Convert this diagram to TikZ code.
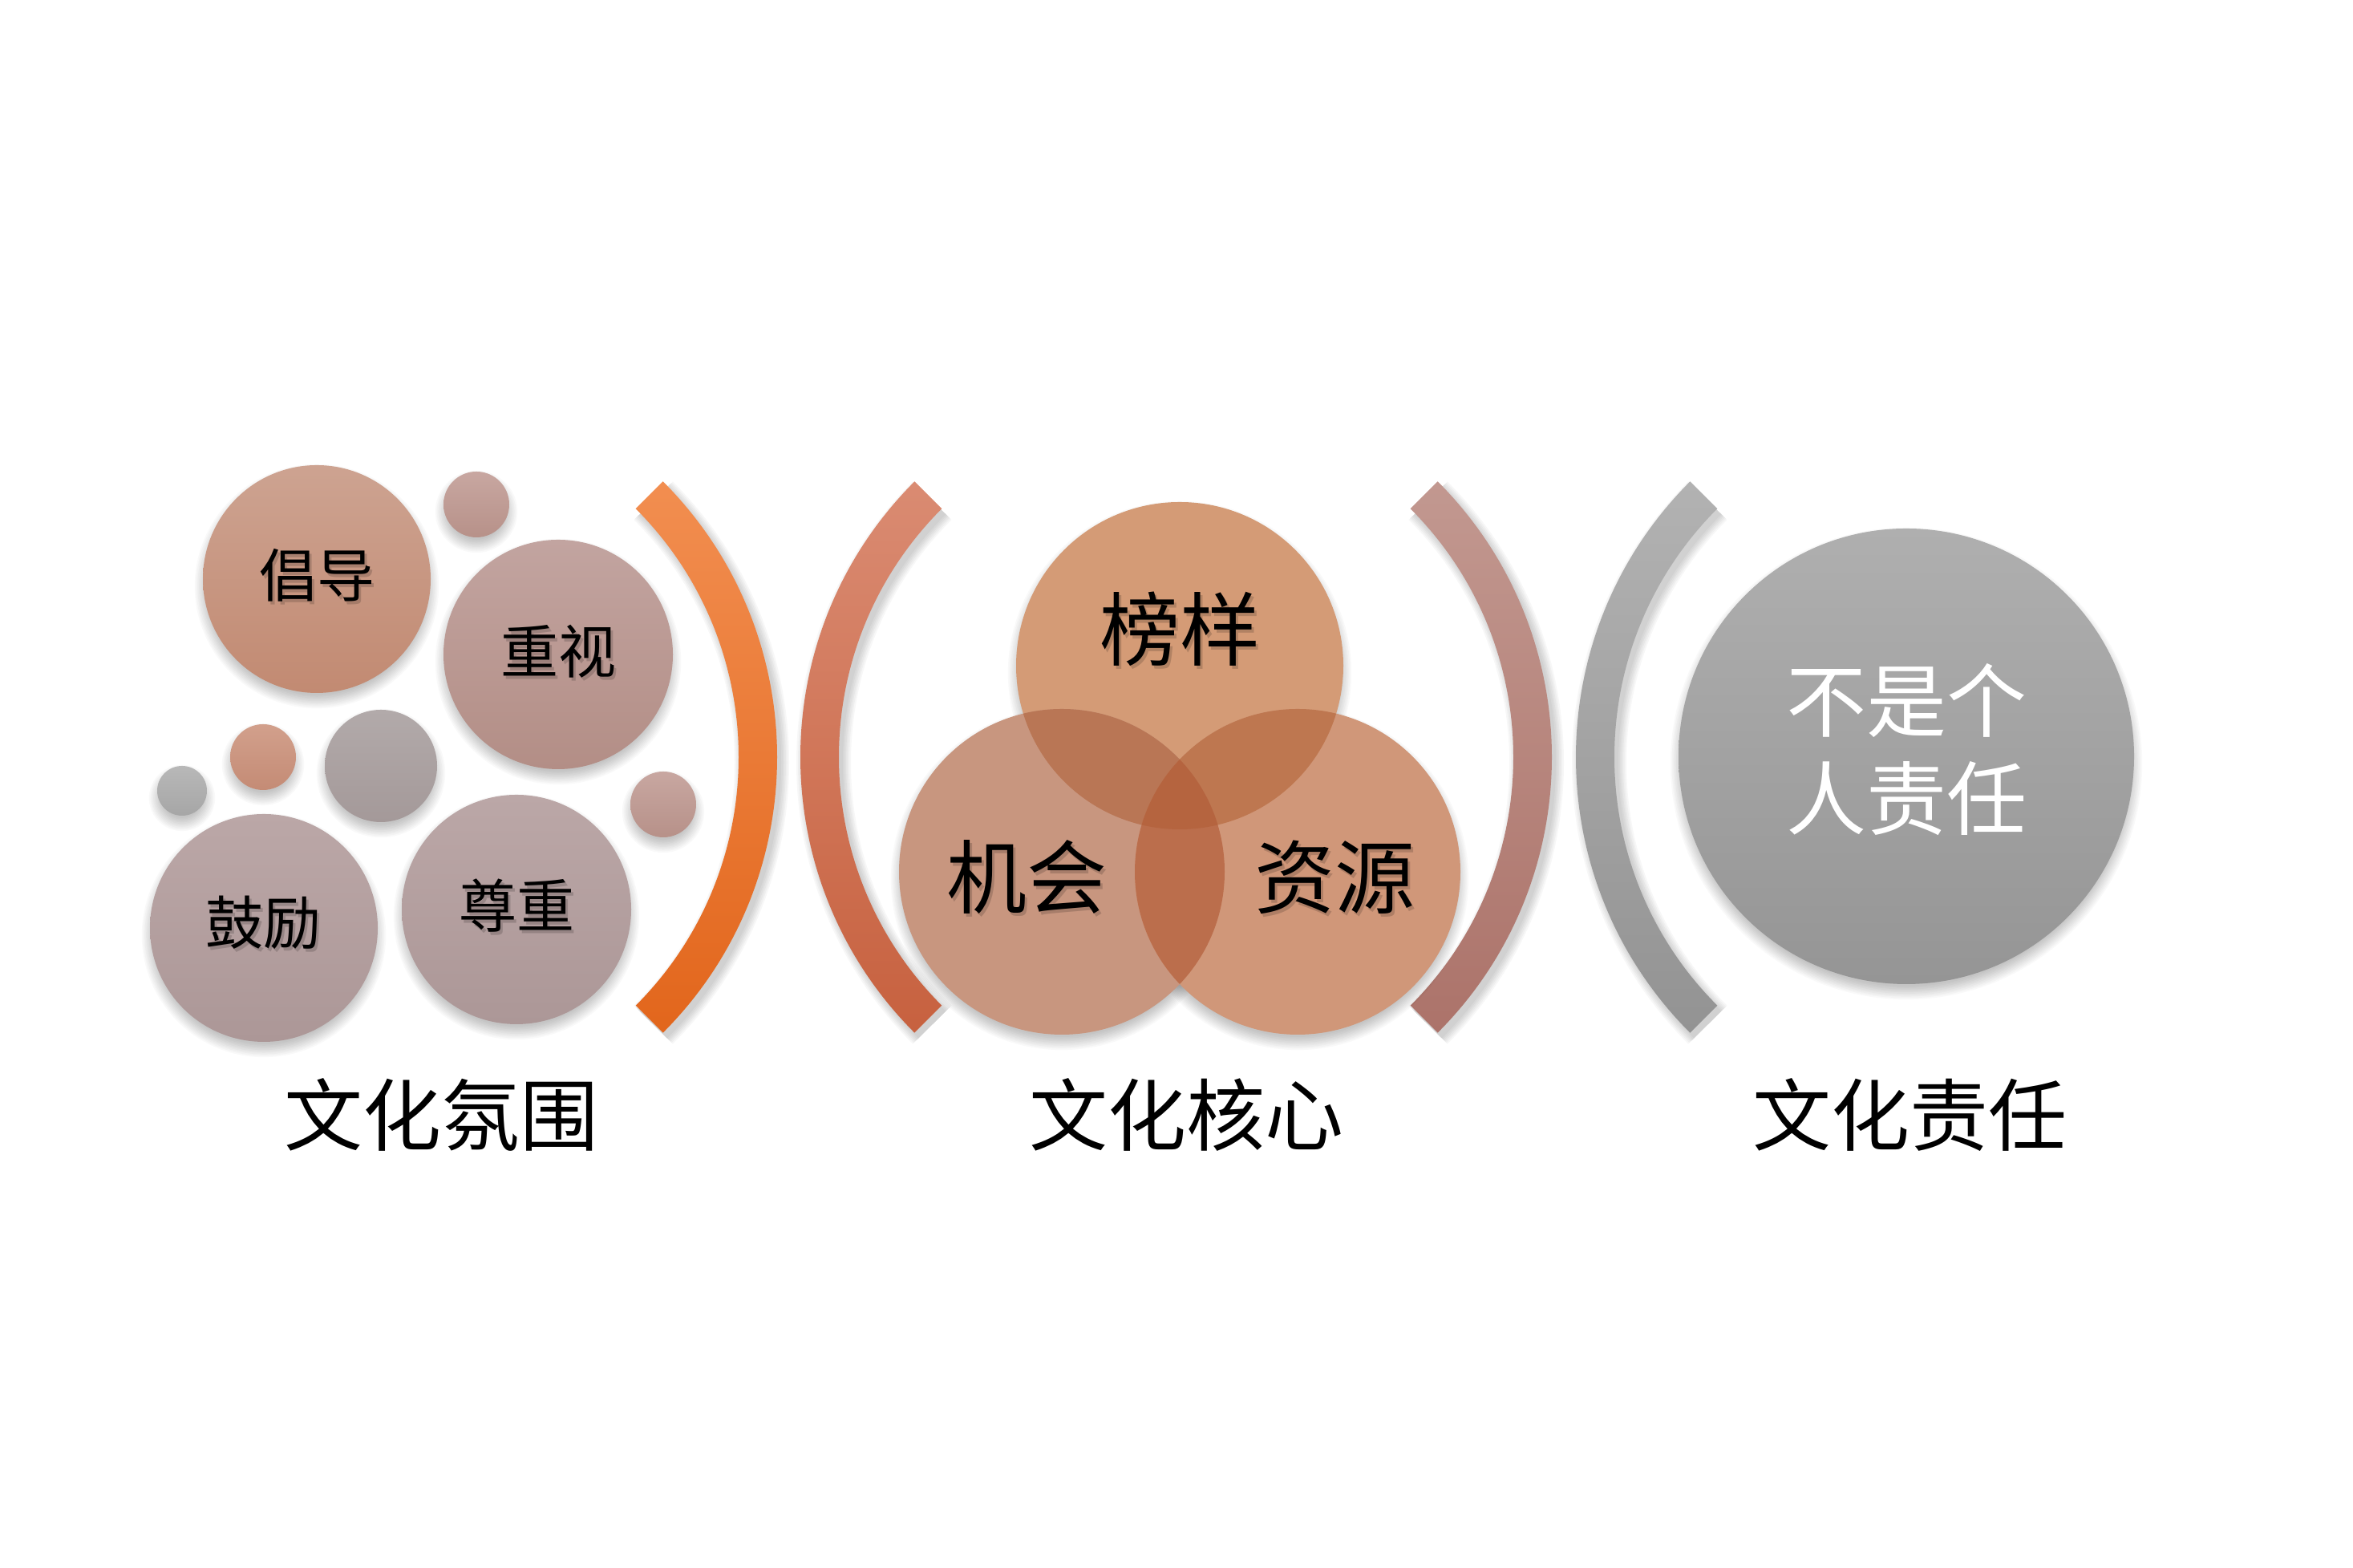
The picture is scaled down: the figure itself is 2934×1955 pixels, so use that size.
\documentclass[tikz,border=0pt]{standalone}
\usepackage{fontspec}
\setmainfont{Noto Sans CJK SC}
\definecolor{aOneT}{HTML}{F28E50}\definecolor{aOneB}{HTML}{E2661C}
\definecolor{aTwoT}{HTML}{DA8B72}\definecolor{aTwoB}{HTML}{C7613F}
\definecolor{aThrT}{HTML}{C29890}\definecolor{aThrB}{HTML}{AC736A}
\definecolor{aFouT}{HTML}{B2B2B2}\definecolor{aFouB}{HTML}{939393}
\definecolor{cAT}{HTML}{CDA391}\definecolor{cAB}{HTML}{C28A72}
\definecolor{cBT}{HTML}{C2A4A0}\definecolor{cBB}{HTML}{B38E86}
\definecolor{cCT}{HTML}{BBA7A7}\definecolor{cCB}{HTML}{AC9797}
\definecolor{sGT}{HTML}{B2AAAA}\definecolor{sGB}{HTML}{A49999}
\definecolor{sTT}{HTML}{B8B8B8}\definecolor{sTB}{HTML}{A6A6A6}
\definecolor{sOT}{HTML}{D2A08C}\definecolor{sOB}{HTML}{C48B75}
\definecolor{sPT}{HTML}{C8A7A1}\definecolor{sPB}{HTML}{B79189}
\definecolor{vA}{HTML}{D49B76}\definecolor{vB}{HTML}{C8967F}\definecolor{vC}{HTML}{D09779}
\definecolor{vAB}{HTML}{B97655}\definecolor{vAC}{HTML}{BE7750}\definecolor{vBC}{HTML}{BB6E4C}\definecolor{vABC}{HTML}{B5643F}
\definecolor{gT}{HTML}{AFAFAF}\definecolor{gB}{HTML}{959595}
\newcommand{\bshadow}[3]{\foreach \k in {0,...,9}{\fill[black,opacity=0.022] (#1,#2-9) circle ({#3+\k*1.8-6});}}
\newcommand{\band}[6]{%
  \foreach \k in {0,...,5}{\draw[black,opacity=0.03,line width={(48+\k*4)*0.25pt}] ([shift={(#3:462)}]#1+5,#2-7) arc[start angle=#3,end angle=#4,radius=462];}
  \shade[top color=#5,bottom color=#6] ([shift={(#3:486)}]#1,#2) arc[start angle=#3,end angle=#4,radius=486] -- ([shift={(#4:438)}]#1,#2) arc[start angle=#4,end angle=#3,radius=438] -- cycle;}
\begin{document}
\begin{tikzpicture}[x=0.25pt,y=0.25pt,
  bub/.style={circle,inner sep=0pt,minimum size=#1*0.5pt},
  small/.style={font=\fontsize{18pt}{20pt}\selectfont,text=black},
  big/.style={font=\fontsize{25pt}{30.5pt}\selectfont,text=black},
  lab/.style={font=\fontsize{24.5pt}{28pt}\selectfont,text=black},
  tshadow/.style={opacity=0.16}]
\useasboundingbox (0,0) rectangle (2934,1955);
\fill[white] (0,0) rectangle (2934,1955);
% arcs
\band{483}{1011}{-45}{45}{aOneT}{aOneB}
\band{1484}{1011}{135}{225}{aTwoT}{aTwoB}
\band{1449}{1011}{-45}{45}{aThrT}{aThrB}
\band{2451}{1011}{135}{225}{aFouT}{aFouB}
% left group shadows
\bshadow{395}{1233}{142}\bshadow{696}{1139}{143}\bshadow{329}{798}{142}\bshadow{644}{821}{143}
\bshadow{594}{1326}{41}\bshadow{328}{1011}{41}\bshadow{227}{969}{31}\bshadow{475}{1000}{70}\bshadow{827}{952}{41}
% left group bubbles
\node[bub=142,top color=cAT,bottom color=cAB] (ca) at (395,1233) {};
\node[bub=143,top color=cBT,bottom color=cBB] (cb) at (696,1139) {};
\node[bub=142,top color=cCT,bottom color=cCB] (cc) at (329,798) {};
\node[bub=143,top color=cCT,bottom color=cCB] (cd) at (644,821) {};
\node[bub=41,top color=sPT,bottom color=sPB] (s1) at (594,1326) {};
\node[bub=41,top color=sOT,bottom color=sOB] (s2) at (328,1011) {};
\node[bub=31,top color=sTT,bottom color=sTB] (s3) at (227,969) {};
\node[bub=70,top color=sGT,bottom color=sGB] (s4) at (475,1000) {};
\node[bub=41,top color=sPT,bottom color=sPB] (s5) at (827,952) {};
\node[small,tshadow] (ta0) at (398,1234) {倡导};
\node[small] (ta) at (395,1238) {倡导};
\node[small,tshadow] (tb0) at (699,1139) {重视};
\node[small] (tb) at (696,1143) {重视};
\node[small,tshadow] (tc0) at (331,801) {鼓励};
\node[small] (tc) at (328,805) {鼓励};
\node[small,tshadow] (td0) at (647,822) {尊重};
\node[small] (td) at (644,826) {尊重};
% Venn
\bshadow{1471}{1125}{204}\bshadow{1324}{868}{203}\bshadow{1618}{868}{203}
\node[bub=204,fill=vA] (va) at (1471,1125) {};
\node[bub=203,fill=vB] (vb) at (1324,868) {};
\node[bub=203,fill=vC] (vc) at (1618,868) {};
\begin{scope}\clip (1471,1125) circle (204); \fill[vAB] (1324,868) circle (203); \end{scope}
\begin{scope}\clip (1471,1125) circle (204); \fill[vAC] (1618,868) circle (203); \end{scope}
\begin{scope}\clip (1324,868) circle (203); \fill[vBC] (1618,868) circle (203); \end{scope}
\begin{scope}\clip (1471,1125) circle (204); \clip (1324,868) circle (203); \fill[vABC] (1618,868) circle (203); \end{scope}
\node[big,tshadow] (tva0) at (1474,1167) {榜样};
\node[big] (tva) at (1471,1171) {榜样};
\node[big,tshadow] (tvb0) at (1283,857) {机会};
\node[big] (tvb) at (1280,861) {机会};
\node[big,tshadow] (tvc0) at (1667,857) {资源};
\node[big] (tvc) at (1664,861) {资源};
% grey circle
\bshadow{2377}{1012}{284}
\node[bub=284,top color=gT,bottom color=gB] (gc) at (2377,1012) {};
\node[big,text=white,align=center] (tg) at (2377,1020) {不是个\\人责任};
% labels
\node[lab] (l1) at (550,565) {文化氛围};
\node[lab] (l2) at (1479,565) {文化核心};
\node[lab] (l3) at (2381,565) {文化责任};
\end{tikzpicture}
\end{document}
